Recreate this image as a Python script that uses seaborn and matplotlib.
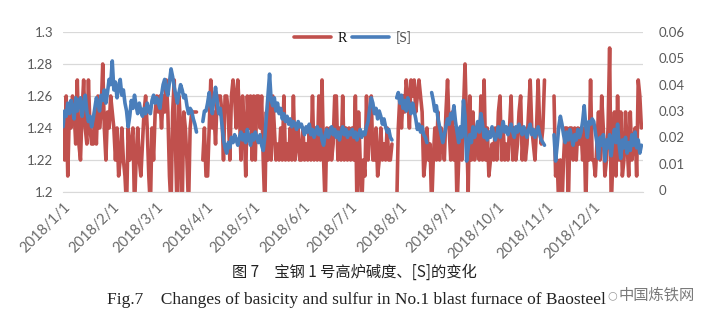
import numpy as np
import pandas as pd
import matplotlib
matplotlib.use("Agg")
import matplotlib.pyplot as plt
from matplotlib.lines import Line2D
import seaborn as sns

nan = np.nan

# Daily basicity R (left axis), one row per month of 2018
R_values = (
    [1.24,1.22,1.26,1.21,1.25,1.24,1.26,1.25,1.23,1.27,1.23,1.22,1.25,1.27,1.24,1.23,1.27,1.24,1.23,1.23,1.25,1.23,1.26,1.24,1.25,1.28,1.24,1.22,1.25,1.24,1.26]
  + [1.25,1.24,1.22,1.24,1.21,1.22,1.24,1.22,1.21,1.19,1.24,1.22,1.23,1.24,1.19,1.22,1.24,1.22,1.21,1.23,1.25,1.26,1.24,1.21,1.19,1.24,1.22,1.25]
  + [1.26,1.25,1.26,1.24,1.26,1.25,1.27,1.25,1.21,1.19,1.25,1.27,1.22,1.18,1.26,1.24,1.19,1.25,1.24,1.22,1.19,1.24,1.25,1.25,1.25,1.25,nan,nan,nan,1.22,1.24]
  + [1.21,1.21,1.24,1.27,1.24,1.25,1.23,1.26,1.26,1.26,1.25,1.22,1.26,1.26,1.25,1.22,1.26,1.27,1.26,1.24,1.27,1.25,1.22,1.26,1.24,1.21,1.26,1.24,1.26,1.22]
  + [1.26,1.22,1.26,1.26,1.24,1.26,1.22,1.19,1.25,1.22,1.26,1.22,1.26,1.24,1.22,1.23,1.22,1.24,1.22,1.26,1.22,1.23,1.22,1.24,1.22,1.26,1.22,1.23,1.24,1.22,1.22]
  + [1.24,1.22,1.23,1.22,1.24,1.22,1.26,1.22,1.24,1.22,1.26,1.22,1.27,1.22,1.19,1.24,1.22,1.24,1.22,1.23,1.26,1.26,1.22,1.24,1.22,1.26,1.22,1.24,1.22,1.24]
  + [1.22,1.24,1.22,1.26,1.19,1.25,1.22,1.19,1.22,1.21,1.26,1.22,1.24,1.26,1.22,1.22,1.24,1.21,1.22,1.24,1.22,1.23,1.22,1.24,1.22,1.22,1.23,nan,nan,1.19,1.24]
  + [1.26,1.24,1.26,1.25,1.27,1.26,1.24,1.27,1.26,1.27,1.25,1.26,1.27,1.26,1.25,1.21,1.22,1.24,1.22,1.23,1.19,1.22,1.24,1.22,1.25,1.22,1.24,1.23,1.22,1.25,1.27]
  + [1.24,1.22,1.25,1.22,1.24,1.19,1.22,1.24,1.22,1.25,1.28,1.24,1.20,1.26,1.22,1.25,1.22,1.23,1.24,1.22,1.26,1.22,1.27,1.22,1.24,1.21,1.22,1.23,1.22,1.24]
  + [1.22,1.25,1.26,1.22,1.24,1.22,1.23,1.22,1.24,1.26,1.22,1.24,1.22,1.23,1.25,1.26,1.22,1.24,1.22,1.23,1.25,1.27,1.24,1.23,1.22,1.24,1.27,1.24,1.23,1.24,1.27]
  + [nan,nan,nan,nan,nan,1.26,1.21,1.22,1.19,1.22,1.19,1.22,1.24,1.24,1.19,1.24,1.24,1.22,1.24,1.22,1.24,1.23,1.24,1.22,1.24,1.19,1.24,1.22,1.27,1.22]
  + [1.22,1.21,1.23,1.25,1.22,1.26,1.24,1.21,1.22,1.24,1.29,1.19,1.22,1.25,1.21,1.26,1.22,1.25,1.21,1.22,1.25,1.23,1.21,1.25,1.22,1.23,1.24,1.21,1.27,1.26,1.24]
)

# Daily hot-metal sulfur [S] (right axis)
S_values = (
    [.024,.030,.028,.033,.029,.034,.031,.027,.035,.030,.033,.035,.028,.032,.036,.030,.026,.028,.024,.027,.031,.035,.033,.030,.036,.034,.038,.033,.037,.042,.040]
  + [.049,.038,.041,.035,.039,.042,.036,.038,.033,.030,.024,.028,.034,.031,.036,.032,.029,.033,.030,.028,.031,.029,.033,.030,.029,.034,.036,.033]
  + [.035,.033,.031,.036,.040,.042,.038,.036,.041,.046,.043,.039,.036,.033,.037,.040,.038,.035,.036,.032,.029,.031,.030,.027,.025,.022,nan,nan,nan,.026,.030]
  + [.030,.033,.037,.032,.029,.035,.039,.034,.029,.031,.025,.019,.016,.014,.018,.016,.020,.018,.021,.019,.017,.020,.022,.019,.021,.018,.023,.020,.017,.021]
  + [.019,.022,.020,.018,.021,.017,.015,.020,.028,.036,.044,.034,.032,.035,.030,.033,.029,.031,.027,.029,.026,.028,.025,.027,.024,.026,.025,.023,.026,.024,.025]
  + [.023,.021,.024,.022,.025,.021,.023,.020,.022,.024,.021,.023,.019,.017,.021,.023,.020,.022,.024,.021,.023,.020,.022,.019,.022,.024,.021,.023,.020,.022]
  + [.021,.023,.020,.022,.019,.021,.023,.020,.022,.021,.024,.026,.031,.035,.033,.029,.031,.027,.030,.028,.025,.027,.024,.022,.023,.020,.019,nan,nan,.035,.037]
  + [.033,.036,.031,.034,.030,.035,.032,.029,.033,.030,.027,.023,.025,.022,.024,.021,.020,.018,nan,nan,.037,.034,.030,.032,.027,.024,.021,.018,.021,.024,.027]
  + [.025,.029,.027,.032,.026,.022,.018,.024,.020,.034,.028,.011,.016,.021,.018,.024,.020,.023,.026,.022,.029,.025,.020,.023,.019,.022,.020,.024,.021,.019]
  + [.021,.024,.020,.023,.026,.022,.024,.021,.023,.025,.022,.020,.024,.022,.025,.023,.021,.024,.022,.020,.023,.025,.021,.023,.020,.022,.024,.021,.019,.018,.017]
  + [nan,nan,nan,nan,nan,.021,.011,.017,.024,.028,.025,.021,.018,.022,.019,.023,.020,.017,.021,.019,.023,.020,.022,.026,.032,.024,.020,.026,.025,.027]
  + [.026,.022,.018,.012,.020,.017,.021,.011,.019,.016,.021,.013,.019,.023,.018,.025,.017,.012,.019,.016,.020,.014,.018,.015,.021,.017,.022,.016,.019,.014,.017]
)

month_labels = ["2018/1/1", "2018/2/1", "2018/3/1", "2018/4/1", "2018/5/1", "2018/6/1",
                "2018/7/1", "2018/8/1", "2018/9/1", "2018/10/1", "2018/11/1", "2018/12/1"]
month_days = [31, 28, 31, 30, 31, 30, 31, 31, 30, 31, 30, 31]
left_ticks = [1.2, 1.22, 1.24, 1.26, 1.28, 1.3]
left_labels = ["1.2", "1.22", "1.24", "1.26", "1.28", "1.3"]
right_ticks = [0, 0.01, 0.02, 0.03, 0.04, 0.05, 0.06]
right_labels = ["0", "0.01", "0.02", "0.03", "0.04", "0.05", "0.06"]

RED = "#C0504D"
BLUE = "#4A7EBB"
GRAY = "#595959"


def frame(values, name):
    df = pd.DataFrame({"day": np.arange(len(values)), name: values})
    df["seg"] = df[name].isna().cumsum()
    return df.dropna()


dR = frame(R_values, "R")
dS = frame(S_values, "S")

sns.set_style("white")
plt.rcParams["font.family"] = ["Lato", "DejaVu Sans"]

fig, ax = plt.subplots(figsize=(7.08, 3.24), dpi=100)
fig.subplots_adjust(left=63 / 708, right=643 / 708, bottom=1 - 192 / 324, top=1 - 32 / 324)
ax2 = ax.twinx()

sns.lineplot(data=dR, x="day", y="R", units="seg", estimator=None, color=RED,
             lw=2.6, ax=ax, legend=False)
sns.lineplot(data=dS, x="day", y="S", units="seg", estimator=None, color=BLUE,
             lw=2.6, ax=ax2, legend=False)

ax.set_ylim(1.2, 1.3)
ax2.set_ylim(-0.00076, 0.06)
ax.set_xlim(0, 365)

ax.set_yticks(left_ticks)
ax.set_yticklabels(left_labels)
ax2.set_yticks(right_ticks)
ax2.set_yticklabels(right_labels)

starts = np.concatenate([[0], np.cumsum(month_days)])
ax.set_xticks(starts)
ax.set_xticklabels(month_labels + [""], rotation=45, ha="right", va="top",
                   rotation_mode="anchor")

ax.grid(axis="y", color="#D9D9D9", lw=0.9)
ax.set_axisbelow(True)
for a in (ax, ax2):
    a.set_xlabel("")
    a.set_ylabel("")
    for s in ("top", "left", "right"):
        a.spines[s].set_visible(False)
    a.spines["bottom"].set_visible(False)
ax.spines["bottom"].set_visible(True)
ax.spines["bottom"].set_color("#D9D9D9")

ax.tick_params(axis="y", length=0, pad=7, labelsize=9.5, labelcolor=GRAY)
ax2.tick_params(axis="y", length=0, pad=11, labelsize=9.5, labelcolor=GRAY)
ax.tick_params(axis="x", length=4, color="#D9D9D9", width=0.9, pad=2,
               labelsize=10.5, labelcolor="#6A6A6A")

handles = [Line2D([], [], color=RED, lw=2.6), Line2D([], [], color=BLUE, lw=2.6)]
leg = ax2.legend(handles, ["R", "[S]"], loc="center", bbox_to_anchor=(0.5, 0.965),
                 ncol=2, frameon=False, fontsize=10, handlelength=2.6,
                 handletextpad=0.5, columnspacing=0.4)
leg.get_texts()[0].set_fontfamily("Liberation Serif")
leg.get_texts()[0].set_color("#111111")
leg.get_texts()[1].set_color(GRAY)

fig.text(0.5, 1 - 272 / 324, "图 7\u3000宝钢 1 号高炉碱度、[S]的变化",
         ha="center", va="center", fontsize=11, color="#222222",
         family=["Noto Sans CJK SC", "DejaVu Sans"])
fig.text(356 / 708, 1 - 300 / 324,
         "Fig.7    Changes of basicity and sulfur in No.1 blast furnace of Baosteel",
         ha="center", va="center", fontsize=12.5, color="#222222",
         family=["Liberation Serif"])
fig.text(612 / 708, 1 - 295 / 324, "\u25cb", ha="center", va="center",
         fontsize=8, color="#9A9A9A", family=["DejaVu Sans"])
fig.text(657 / 708, 1 - 295 / 324, "中国炼铁网", ha="center", va="center",
         fontsize=11, color="#7A7A7A", family=["Noto Sans CJK SC"])

fig.savefig("out.png", dpi=100)
